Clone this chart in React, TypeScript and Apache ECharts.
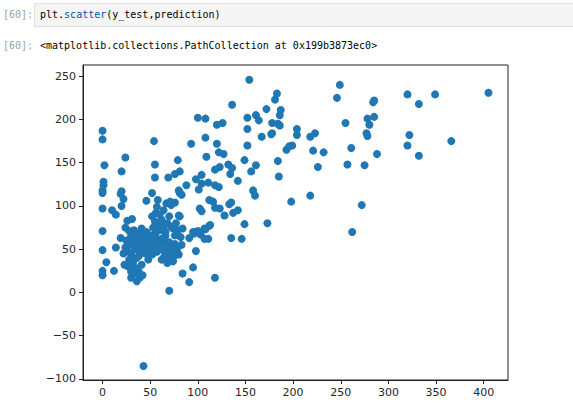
import React, { useEffect, useRef } from "react";
import * as echarts from "echarts";

// y_test values (x axis)
const yTest = [
  0, 0, 2, 1, 1, 0, 0, 0, 0, 0, 0, 0,
  4, 12, 14, 19, 10, 14, 20, 22, 20, 24, 20, 19, 26, 31, 24, 28,
  52, 55, 58, 62, 64, 60, 66, 56, 53, 68, 70, 72,
  25, 28, 30, 32, 34, 35, 37, 38, 40, 40, 42, 43, 44, 45, 46, 47, 48, 50, 50, 52, 53, 55, 56, 57, 58, 60, 62, 63, 65, 66, 67, 68, 70, 22, 24, 26, 30, 33, 36, 41, 48, 38,
  27, 30, 39, 38, 41, 32, 23, 28, 35, 33, 42, 36, 30,
  65, 70, 76, 83, 72, 78, 74, 68, 80, 76, 62, 70,
  74, 79, 77, 80, 76, 82, 81, 84,
  43,
  46, 52, 54, 55, 55, 58, 57, 56, 60, 64, 67, 72, 76, 71,
  69, 76, 81, 79, 93, 88, 80, 81, 83,
  70, 84, 91, 95, 98, 91, 95, 98, 96, 103,
  100, 108, 108, 109, 104, 98, 104, 101, 111, 118, 122, 112, 116, 102, 104, 118, 123, 112, 107, 100, 107, 111, 118, 120, 126, 120, 122, 127, 123, 118, 108, 113,
  136, 152, 161, 164, 152, 132, 136, 134, 142, 158, 160, 133, 135, 142, 137, 128, 149, 135, 146, 149, 156, 161, 152, 154,
  183, 181, 172, 187, 186, 178, 184, 186, 204, 204, 223, 218, 177, 178, 167, 199, 196, 193, 221, 232, 184, 185, 218, 198, 173, 226,
  249, 246, 320, 349, 405, 332, 284, 285, 285, 278, 280, 255, 277, 278, 322, 320, 366, 261, 288, 332, 257, 275, 272, 262,
];

// prediction values (y axis), aligned with yTest
const prediction = [
  187, 177, 147, 128, 124, 118, 115, 97, 71, 49, 25, 20,
  35, 25, 52, 63, 95, 90, 100, 108, 140, 156, 117, 114, 83, 85, 75, 71,
  88, 82, 78, 84, 76, 72, 70, 70, 75, 80, 88, 76,
  60, 55, 65, 58, 50, 62, 68, 55, 48, 60, 66, 52, 58, 45, 70, 62, 50, 56, 66, 44, 60, 52, 64, 47, 58, 50, 62, 56, 48, 66, 58, 44, 52, 45, 52, 48, 44, 72, 40, 74, 38, 42,
  30, 17, 17, 24, 32, 34, 32, 38, 28, 22, 20, 13, 24,
  42, 38, 43, 55, 48, 50, 36, 34, 44, 56, 38, 58,
  74, 72, 80, 89, 66, 64, 88, 74,
  -85,
  106, 115, 175, 148, 133, 107, 99, 92, 90, 95, 103, 101, 104, 105,
  133, 137, 140, 153, 172, 124, 118, 115, 113,
  2, 22, 12, 29, 48, 63, 70, 70, 68, 67,
  202, 201, 179, 157, 136, 131, 126, 119, 127, 124, 122, 107, 105, 97, 94, 98, 97, 77, 74, 71, 62, 62, 17, 194, 196, 172, 162, 160, 145, 142, 73, 78,
  217, 202, 205, 199, 189, 148, 144, 137, 129, 118, 112, 102, 104, 95, 92, 89, 79, 63, 62, 153, 140, 147, 170, 246,
  230, 223, 212, 211, 205, 196, 195, 193, 189, 182, 184, 180, 183, 184, 180, 170, 169, 165, 164, 162, 152, 134, 112, 105, 80, 145,
  240, 225, 229, 229, 231, 218, 220, 222, 203, 201, 194, 196, 184, 181, 182, 170, 175, 167, 160, 158, 148, 147, 101, 70,
];

const xTicks = [0, 50, 100, 150, 200, 250, 300, 350, 400];
const yTicks = [-100, -50, 0, 50, 100, 150, 200, 250];

const fmt = (v: number) => String(v).replace("-", "\u2212");

export default function App() {
  const ref = useRef<HTMLDivElement>(null);
  useEffect(() => {
    const chart = echarts.init(ref.current!, null, { renderer: "svg" });
    const points = yTest.map((x, i) => [x, prediction[i]]);
    chart.setOption({
      animation: false,
      grid: {
        left: 83,
        top: 65,
        width: 425,
        height: 315,
        show: true,
        borderColor: "#222",
        borderWidth: 1,
        backgroundColor: "transparent",
      },
      xAxis: {
        type: "value",
        min: -20.5,
        max: 425.5,
        splitLine: { show: false },
        axisLine: { show: true, onZero: false, lineStyle: { color: "#222", width: 1 } },
        axisTick: { show: true, length: 4, customValues: xTicks, lineStyle: { color: "#222" } },
        axisLabel: {
          customValues: xTicks,
          formatter: fmt,
          color: "#262626",
          fontSize: 11,
          fontFamily: "DejaVu Sans",
          margin: 7,
        },
      },
      yAxis: {
        type: "value",
        min: -101.2,
        max: 263,
        splitLine: { show: false },
        axisLine: { show: true, onZero: false, lineStyle: { color: "#222", width: 1 } },
        axisTick: { show: true, length: 4, customValues: yTicks, lineStyle: { color: "#222" } },
        axisLabel: {
          customValues: yTicks,
          formatter: fmt,
          color: "#262626",
          fontSize: 11,
          fontFamily: "DejaVu Sans",
          margin: 7,
        },
      },
      series: [
        {
          type: "scatter",
          data: points,
          symbol: "circle",
          symbolSize: 8,
          itemStyle: { color: "#1f77b4", opacity: 1 },
        },
      ],
    });
    return () => chart.dispose();
  }, []);

  const mono = '"DejaVu Sans Mono", "Liberation Mono", monospace';
  return (
    <div style={{ position: "fixed", left: 0, top: 0, width: 573, height: 416, background: "#fff", overflow: "hidden" }}>
      <div ref={ref} style={{ position: "absolute", left: 0, top: 0, width: 573, height: 416 }} />
      <div style={{ position: "absolute", left: 3, top: 9, fontFamily: mono, fontSize: 10, color: "#a0a0a0", lineHeight: "12px" }}>[60]:</div>
      <div
        style={{
          position: "absolute",
          left: 34,
          top: 3,
          width: 560,
          height: 24,
          background: "#f5f5f5",
          border: "1px solid #e0e0e0",
          boxSizing: "border-box",
        }}
      />
      <div style={{ position: "absolute", left: 40, top: 9, fontFamily: mono, fontSize: 10, color: "#000", lineHeight: "12px", whiteSpace: "pre" }}>
        plt.<span style={{ color: "#0055aa" }}>scatter</span>(y_test,prediction)
      </div>
      <div style={{ position: "absolute", left: 3, top: 40, fontFamily: mono, fontSize: 10, color: "#a0a0a0", lineHeight: "12px" }}>[60]:</div>
      <div style={{ position: "absolute", left: 40, top: 40, fontFamily: mono, fontSize: 10, color: "#000", lineHeight: "12px", whiteSpace: "pre" }}>
        {"<matplotlib.collections.PathCollection at 0x199b3873ec0>"}
      </div>
    </div>
  );
}
